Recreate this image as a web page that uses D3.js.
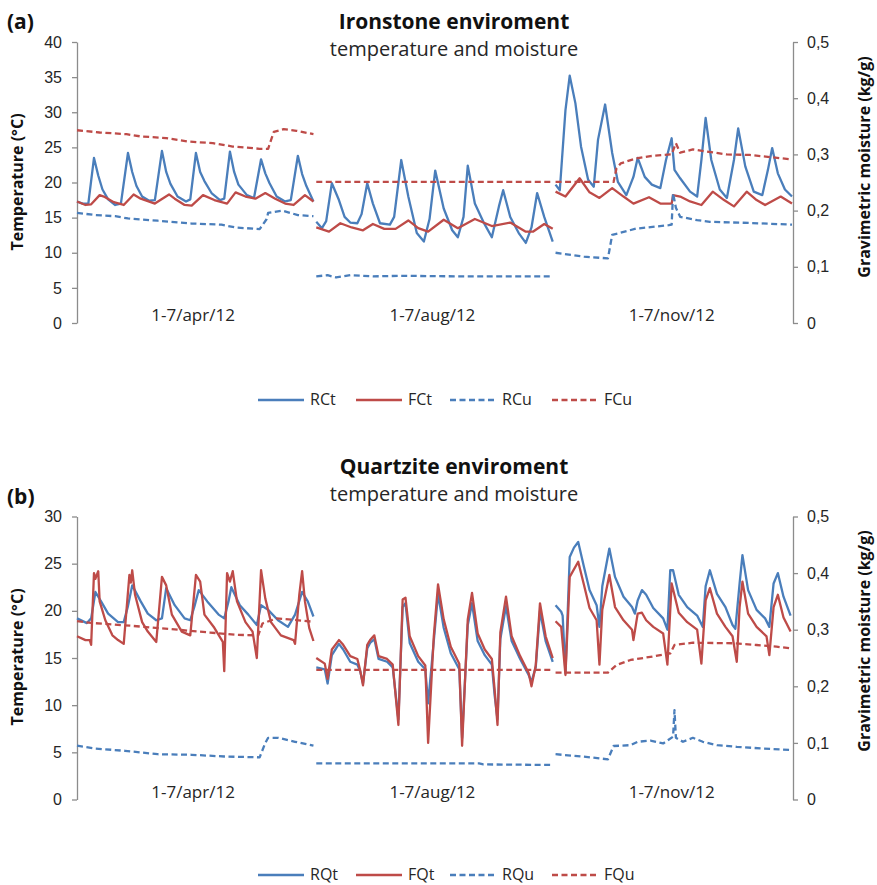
<!DOCTYPE html>
<html>
<head>
<meta charset="utf-8">
<script src="https://cdn.jsdelivr.net/npm/d3@7"></script>
<style>
  body { margin: 0; background: #fff; }
  svg { display: block; font-family: "Open Sans", Lato, sans-serif; }
</style>
</head>
<body>
<div id="grafico"></div>
<script>
// Categorie (una settimana per periodo, dati orari 0..167)
const periods = ["1-7/apr/12", "1-7/aug/12", "1-7/nov/12"];
const hoursPerPeriod = 168;

// Ticks
const tempTicksA = [0, 5, 10, 15, 20, 25, 30, 35, 40];
const tempTicksB = [0, 5, 10, 15, 20, 25, 30];
const moistTicks = [0, 0.1, 0.2, 0.3, 0.4, 0.5];

// ---- Panel (a): Ironstone, [hour, value] per period ----
const RCt = [
  [[0,17.3],[4,17.0],[8,17.0],[12,23.5],[15,21.0],[18,19.0],[22,17.6],[27,16.8],[31,17.0],[36,24.2],[39,21.5],[42,19.5],[46,18.0],[51,17.4],[55,17.5],[60,24.5],[63,21.5],[66,19.8],[71,18.0],[77,17.3],[80,17.6],[84,24.2],[87,21.5],[90,20.2],[95,18.5],[101,17.5],[104,17.7],[108,24.4],[111,21.5],[114,19.7],[120,18.2],[125,17.8],[130,23.3],[133,21.3],[136,19.9],[141,18.0],[147,17.3],[151,17.5],[156,23.8],[159,21.2],[162,19.5],[167,17.3]],
  [[0,14.4],[4,13.5],[7,14.5],[11,19.9],[16,17.5],[20,15.1],[24,14.3],[29,14.2],[32,15.5],[36,19.9],[40,17.0],[45,14.2],[52,14.0],[55,15.1],[60,23.2],[65,18.0],[71,12.8],[76,11.6],[80,14.8],[84,21.7],[90,16.3],[96,13.2],[100,12.2],[104,15.1],[107,22.4],[112,17.0],[118,14.4],[124,12.2],[129,16.6],[132,18.9],[137,15.1],[143,12.8],[148,11.4],[152,13.6],[156,18.5],[161,15.1],[167,11.6]],
  [[0,19.7],[3,18.9],[7,30.3],[10,35.2],[14,31.3],[18,25.1],[23,20.4],[27,19.4],[30,26.1],[35,31.1],[40,24.2],[44,20.1],[50,18.2],[55,20.8],[58,23.5],[63,20.8],[68,19.7],[74,19.2],[78,23.2],[82,26.3],[84,21.8],[88,20.6],[95,18.7],[100,18.0],[103,23.2],[106,29.2],[110,23.2],[116,19.0],[121,17.8],[126,23.2],[129,27.7],[134,22.3],[140,18.7],[146,18.2],[150,21.8],[153,24.9],[157,21.3],[162,19.0],[167,18.0]]
];
const FCt = [
  [[0,17.3],[6,16.8],[10,16.9],[16,18.2],[19,18.0],[26,17.2],[33,16.8],[40,18.3],[45,17.7],[55,17.0],[65,18.3],[69,17.7],[76,16.8],[81,16.7],[89,18.2],[97,17.5],[106,17.0],[112,18.6],[119,18.0],[126,17.7],[133,18.5],[140,17.7],[147,17.0],[153,16.8],[161,18.2],[167,17.3]],
  [[0,13.6],[9,13.0],[17,14.2],[25,13.6],[33,13.2],[40,14.1],[48,13.4],[56,13.4],[65,14.6],[72,13.5],[79,13.0],[90,14.7],[100,13.5],[112,14.8],[124,13.8],[137,14.3],[148,13.0],[153,13.0],[161,14.1],[167,13.4]],
  [[0,18.7],[7,18.0],[17,20.6],[24,18.6],[31,17.8],[40,19.2],[48,18.0],[55,17.0],[66,17.9],[74,17.0],[82,17.0],[83,18.2],[88,18.0],[95,17.3],[103,16.8],[111,18.7],[119,17.5],[126,16.6],[135,18.7],[142,17.5],[148,16.8],[159,18.0],[167,17.0]]
];
const RCu = [
  [[0,0.196],[13,0.192],[27,0.190],[36,0.186],[57,0.182],[81,0.177],[102,0.175],[112,0.170],[129,0.167],[134,0.185],[135,0.196],[145,0.200],[156,0.192],[167,0.190]],
  [[0,0.083],[8,0.085],[14,0.081],[24,0.085],[40,0.083],[60,0.084],[100,0.083],[167,0.083]],
  [[0,0.125],[20,0.118],[37,0.115],[40,0.157],[45,0.160],[57,0.168],[80,0.174],[82,0.175],[83,0.231],[85,0.205],[88,0.189],[100,0.183],[109,0.180],[137,0.178],[167,0.175]]
];
const FCu = [
  [[0,0.343],[16,0.339],[35,0.336],[45,0.332],[63,0.329],[78,0.323],[96,0.320],[110,0.314],[129,0.310],[135,0.310],[139,0.340],[146,0.345],[155,0.342],[167,0.336]],
  [[0,0.251],[167,0.251]],
  [[0,0.251],[41,0.251],[43,0.275],[46,0.284],[57,0.293],[67,0.297],[82,0.300],[85,0.320],[88,0.303],[97,0.309],[107,0.305],[121,0.300],[137,0.299],[167,0.291]]
];

// ---- Panel (b): Quartzite ----
const RQt = [
  [[0,19.2],[7,18.7],[10,19.2],[13,22.0],[17,21.0],[22,19.7],[29,18.8],[33,18.8],[36,20.5],[39,22.7],[45,21.0],[50,19.7],[56,19.0],[60,19.2],[63,22.4],[69,20.6],[76,19.2],[80,19.0],[83,20.5],[86,22.2],[92,21.0],[100,19.6],[104,19.2],[107,21.0],[109,22.5],[115,20.6],[121,19.6],[127,18.5],[130,20.6],[135,20.1],[142,19.0],[149,18.3],[154,19.6],[159,22.0],[163,21.0],[167,19.4]],
  [[0,14.0],[6,13.8],[8,12.3],[11,15.3],[16,16.5],[19,15.9],[24,14.6],[29,14.3],[31,13.6],[33,12.3],[36,16.0],[38,16.6],[41,17.0],[44,14.9],[50,14.6],[54,14.0],[58,8.5],[61,20.4],[63,20.8],[66,16.6],[72,14.6],[77,13.8],[79,10.2],[83,16.8],[86,21.8],[90,18.2],[95,15.5],[101,13.8],[103,6.5],[107,18.5],[110,20.8],[114,16.8],[119,15.3],[124,14.3],[126,11.0],[128,8.5],[130,17.0],[134,20.5],[138,16.8],[144,14.9],[150,13.2],[152,12.5],[155,14.0],[158,20.0],[162,16.8],[167,14.6]],
  [[0,20.6],[4,19.9],[5,19.5],[7,13.4],[10,25.7],[13,26.7],[16,27.3],[20,24.7],[24,22.2],[29,20.6],[31,18.3],[33,22.6],[38,26.6],[42,23.6],[48,21.5],[54,20.4],[56,19.7],[58,21.1],[61,22.2],[64,21.7],[69,20.3],[76,19.2],[79,18.0],[81,24.3],[83,24.3],[87,21.7],[93,20.4],[100,19.5],[104,18.3],[106,22.6],[109,24.3],[114,21.8],[120,20.4],[125,18.5],[127,18.1],[130,22.9],[132,25.9],[136,22.2],[142,20.1],[148,19.2],[151,18.3],[154,22.9],[157,24.0],[161,21.5],[166,19.5]]
];
const FQt = [
  [[0,17.3],[6,16.9],[9,16.9],[10,16.4],[12,24.0],[13,23.4],[15,24.2],[16,21.0],[20,19.0],[25,17.4],[29,16.9],[33,16.5],[37,23.8],[38,23.0],[39,24.3],[41,21.7],[46,18.8],[50,17.8],[56,16.7],[60,23.6],[63,22.7],[67,19.6],[74,17.8],[80,17.4],[84,23.8],[87,23.1],[90,19.6],[97,18.2],[103,16.7],[104,13.6],[106,24.0],[108,23.1],[110,24.2],[113,21.0],[119,18.8],[124,17.8],[127,15.0],[130,24.3],[133,21.3],[137,18.8],[144,17.4],[153,16.9],[154,16.5],[157,21.7],[159,24.2],[161,21.0],[164,18.2],[167,16.8]],
  [[0,15.0],[6,14.4],[8,12.8],[11,15.9],[16,16.9],[19,16.4],[24,15.2],[29,14.9],[31,13.7],[33,12.1],[36,16.4],[38,16.9],[41,17.4],[44,15.2],[50,14.9],[54,14.3],[58,7.9],[61,21.2],[63,21.4],[66,17.3],[72,15.2],[77,14.2],[79,6.0],[83,17.3],[86,22.8],[90,19.1],[95,16.2],[101,14.4],[103,5.7],[107,19.1],[110,21.9],[114,17.6],[119,15.9],[124,14.9],[126,11.6],[128,7.9],[130,17.7],[134,21.5],[138,17.3],[144,15.2],[150,13.4],[152,12.0],[155,14.2],[158,20.8],[162,17.3],[167,15.0]],
  [[0,18.9],[4,18.3],[7,13.2],[10,23.6],[16,25.2],[20,22.8],[24,20.3],[29,19.0],[31,14.3],[33,20.1],[38,23.8],[42,20.4],[48,19.0],[54,18.0],[55,16.9],[58,19.7],[61,19.8],[64,19.0],[69,18.3],[76,17.6],[79,14.3],[82,22.9],[87,19.8],[93,18.8],[100,18.0],[103,14.4],[106,21.1],[109,22.4],[114,19.7],[120,18.3],[125,17.3],[128,14.6],[130,20.4],[132,23.1],[136,19.7],[142,18.3],[149,17.3],[151,15.3],[154,20.4],[157,21.7],[161,19.3],[166,17.8]]
];
const RQu = [
  [[0,0.095],[13,0.090],[34,0.086],[57,0.080],[81,0.079],[104,0.076],[129,0.0745],[133,0.100],[135,0.109],[142,0.109],[154,0.102],[167,0.095]],
  [[0,0.064],[115,0.064],[118,0.062],[167,0.061]],
  [[0,0.080],[20,0.0757],[37,0.071],[41,0.0945],[53,0.096],[58,0.102],[67,0.104],[76,0.099],[83,0.111],[84,0.158],[85,0.109],[90,0.102],[97,0.109],[104,0.102],[114,0.096],[128,0.093],[147,0.090],[166,0.0875]]
];
const FQu = [
  [[0,0.315],[10,0.312],[38,0.307],[71,0.300],[94,0.295],[113,0.291],[128,0.290],[131,0.311],[141,0.320],[155,0.317],[167,0.314]],
  [[0,0.229],[167,0.229]],
  [[0,0.224],[37,0.224],[43,0.2376],[53,0.2465],[67,0.252],[81,0.258],[84,0.273],[97,0.277],[126,0.276],[142,0.273],[156,0.270],[166,0.267]]
];

const blue = "#4a7ebb";
const red = "#be4b48";
const axisGrey = "#8c8c8c";
const textCol = "#262626";

const svg = d3.select("#grafico")
  .append("svg")
  .attr("width", 877)
  .attr("height", 885);

svg.append("rect").attr("width", 877).attr("height", 885).attr("fill", "#fff");

// asse x: indice orario con una ora vuota tra i periodi
const gapSlot = hoursPerPeriod + 1;
const x = d3.scaleLinear()
  .domain([0, gapSlot * 2 + hoursPerPeriod - 1])
  .range([77, 792]);

const commaFmt = d => d === 0 ? "0" : d3.format(".1f")(d).replace(".", ",");

function drawPanel(p) {
  const yT = d3.scaleLinear().domain([0, p.tMax]).range([p.bottom, p.top]);
  const yM = d3.scaleLinear().domain([0, 0.5]).range([p.bottom, p.top]);

  const g = svg.append("g");

  // asse sinistro (temperatura)
  const left = g.append("g")
    .attr("transform", "translate(77,0)")
    .call(d3.axisLeft(yT).tickValues(p.tTicks).tickSize(5).tickSizeOuter(0).tickPadding(10));
  // asse destro (umidità)
  const right = g.append("g")
    .attr("transform", "translate(793,0)")
    .call(d3.axisRight(yM).tickValues(moistTicks).tickFormat(commaFmt).tickSize(5).tickSizeOuter(0).tickPadding(9));

  [left, right].forEach(a => {
    a.select(".domain").attr("stroke", axisGrey).attr("stroke-width", 1.3);
    a.selectAll(".tick line").attr("stroke", axisGrey).attr("stroke-width", 1.3);
    a.selectAll(".tick text")
      .attr("fill", textCol)
      .style("font-size", "16px");
  });

  // linee per periodo
  const series = [
    { data: p.series[0], color: blue, dash: null, scale: yT },
    { data: p.series[1], color: red, dash: null, scale: yT },
    { data: p.series[2], color: blue, dash: "6,3.5", scale: yM },
    { data: p.series[3], color: red, dash: "6,3.5", scale: yM }
  ];
  series.forEach(s => {
    s.data.forEach((seg, i) => {
      const line = d3.line()
        .x(d => x(i * gapSlot + d[0]))
        .y(d => s.scale(d[1]));
      g.append("path")
        .attr("d", line(seg))
        .attr("fill", "none")
        .attr("stroke", s.color)
        .attr("stroke-width", 2.3)
        .attr("stroke-linejoin", "round")
        .attr("stroke-dasharray", s.dash);
    });
  });

  // etichette dei periodi
  periods.forEach((lab, i) => {
    g.append("text")
      .attr("x", x(i * gapSlot + 82))
      .attr("y", p.bottom - 2)
      .attr("text-anchor", "middle")
      .attr("fill", textCol)
      .style("font-size", "17px")
      .text(lab);
  });

  // titoli
  g.append("text")
    .attr("x", 7).attr("y", p.top - 13)
    .style("font-size", "21px").style("font-weight", "bold")
    .attr("fill", "#111")
    .text(p.letter);
  g.append("text")
    .attr("x", 454).attr("y", p.titleY)
    .attr("text-anchor", "middle")
    .style("font-size", "21px").style("font-weight", "bold")
    .attr("fill", "#111")
    .text(p.title);
  g.append("text")
    .attr("x", 454).attr("y", p.titleY + 27)
    .attr("text-anchor", "middle")
    .style("font-size", "20px")
    .attr("fill", textCol)
    .text("temperature and moisture");

  // titoli degli assi
  g.append("text")
    .attr("transform", `translate(17,${p.leftLabelY}) rotate(-90)`)
    .attr("dy", "0.35em")
    .attr("text-anchor", "middle")
    .style("font-size", "16px").style("font-weight", "bold")
    .attr("fill", "#111")
    .text("Temperature (°C)");
  g.append("text")
    .attr("transform", `translate(864,${p.rightLabelY}) rotate(-90)`)
    .attr("dy", "0.35em")
    .attr("text-anchor", "middle")
    .style("font-size", "16px").style("font-weight", "bold")
    .attr("fill", "#111")
    .text("Gravimetric moisture (kg/g)");

  // legenda
  const items = [
    { name: p.names[0], color: blue, dash: null, x0: 258 },
    { name: p.names[1], color: red, dash: null, x0: 356 },
    { name: p.names[2], color: blue, dash: "6,3.5", x0: 450 },
    { name: p.names[3], color: red, dash: "6,3.5", x0: 552 }
  ];
  items.forEach(it => {
    g.append("line")
      .attr("x1", it.x0).attr("x2", it.x0 + 46)
      .attr("y1", p.legendY).attr("y2", p.legendY)
      .attr("stroke", it.color).attr("stroke-width", 2.3)
      .attr("stroke-dasharray", it.dash);
    g.append("text")
      .attr("x", it.x0 + 52).attr("y", p.legendY + 5)
      .style("font-size", "16px")
      .attr("fill", textCol)
      .text(it.name);
  });
}

drawPanel({
  letter: "(a)", title: "Ironstone  enviroment", titleY: 29,
  top: 42, bottom: 323, tMax: 40, tTicks: tempTicksA,
  series: [RCt, FCt, RCu, FCu], names: ["RCt", "FCt", "RCu", "FCu"],
  leftLabelY: 182, rightLabelY: 167, legendY: 400
});
drawPanel({
  letter: "(b)", title: "Quartzite  enviroment", titleY: 474,
  top: 516.5, bottom: 799.5, tMax: 30, tTicks: tempTicksB,
  series: [RQt, FQt, RQu, FQu], names: ["RQt", "FQt", "RQu", "FQu"],
  leftLabelY: 657, rightLabelY: 641, legendY: 875
});
</script>
</body>
</html>
